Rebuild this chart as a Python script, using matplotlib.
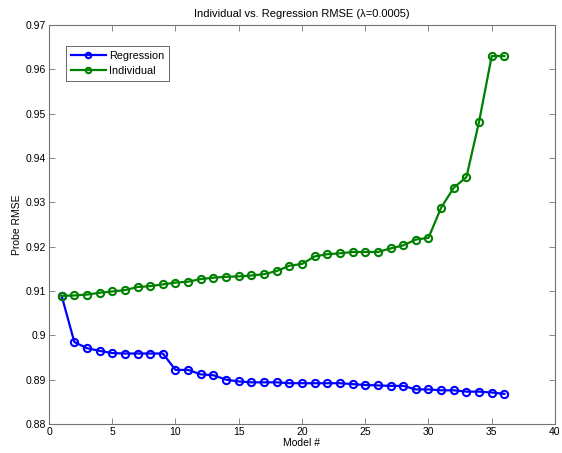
import matplotlib
matplotlib.use('Agg')
import matplotlib.pyplot as plt

plt.rcParams['font.family'] = ['Liberation Sans', 'DejaVu Sans']

# model index
models = list(range(1, 37))

# probe RMSE
regression = [0.9089, 0.8985, 0.8971, 0.8965, 0.8960, 0.8959, 0.8959, 0.8959, 0.8959,
              0.8922, 0.8922, 0.8912, 0.8910, 0.8900, 0.8896, 0.8894, 0.8894, 0.8894,
              0.8892, 0.8892, 0.8892, 0.8892, 0.8892, 0.8890, 0.8888, 0.8887, 0.8886,
              0.8886, 0.8878, 0.8878, 0.8876, 0.8876, 0.8873, 0.8873, 0.8871, 0.8868]
individual = [0.9089, 0.9090, 0.9092, 0.9096, 0.9099, 0.9102, 0.9109, 0.9111, 0.9115,
              0.9119, 0.9121, 0.9127, 0.9130, 0.9132, 0.9133, 0.9135, 0.9138, 0.9145,
              0.9157, 0.9161, 0.9178, 0.9183, 0.9185, 0.9188, 0.9188, 0.9188, 0.9196,
              0.9203, 0.9216, 0.9220, 0.9288, 0.9333, 0.9357, 0.9482, 0.9630, 0.9630]

fig = plt.figure(figsize=(5.62, 4.53), dpi=100)
ax = fig.add_axes([0.0872, 0.0640, 0.9003, 0.8808])

ax.plot(models, regression, '-o', color=(0, 0, 1), lw=1.6, ms=5.2, mew=1.5,
        mfc='none', label='Regression')
ax.plot(models, individual, '-o', color=(0, 0.5, 0), lw=1.6, ms=5.2, mew=1.5,
        mfc='none', label='Individual')

ax.set_xlim(0, 40)
ax.set_ylim(0.88, 0.97)
ax.set_xticks(range(0, 45, 5))
ax.set_yticks([0.88 + 0.01 * i for i in range(10)])
ax.set_yticklabels(['0.88', '0.89', '0.9', '0.91', '0.92', '0.93', '0.94', '0.95', '0.96', '0.97'])
ax.tick_params(direction='in', length=4, width=0.6, labelsize=7.5, top=True, right=True,
               color='0.45', labelcolor='black', pad=2)
for s in ax.spines.values():
    s.set_linewidth(0.8)
    s.set_color('0.45')

ax.set_title('Individual vs. Regression RMSE (\u03bb=0.0005)', fontsize=8, pad=6)
ax.set_xlabel('Model #', fontsize=7.5, labelpad=1)
ax.set_ylabel('Probe RMSE', fontsize=7.5, labelpad=3)

leg = ax.legend(loc='upper left', bbox_to_anchor=(0.0336, 0.947), borderaxespad=0,
                fontsize=7.8, fancybox=False, framealpha=1, edgecolor='0.3',
                handlelength=3.2, borderpad=0.45, labelspacing=0.45, handletextpad=0.35,
                markerscale=0.75)
leg.get_frame().set_linewidth(0.6)

fig.savefig('out.png', dpi=100)
